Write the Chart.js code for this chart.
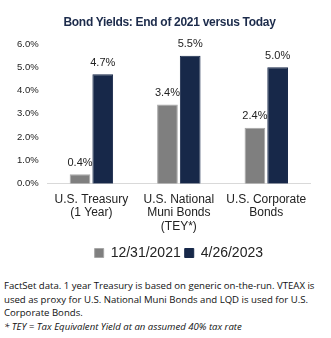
<!DOCTYPE html>
<html>
<head>
<meta charset="utf-8">
<script src="https://cdn.jsdelivr.net/npm/chart.js@4"></script>
<style>
  html, body { margin: 0; padding: 0; background: #fff; }
  #wrap { position: relative; width: 331px; height: 270px; }
  #title {
    position: absolute; left: 0; top: 15px; width: 339px; text-align: center;
    font: bold 12px "Liberation Sans", Arial, sans-serif; letter-spacing: -0.3px;
    color: #1c2b4b;
  }
  #notes {
    position: absolute; left: 4px; top: 279px; width: 325px;
    font-family: "Open Sans", "Noto Sans", sans-serif; font-size: 9.6px;
    line-height: 13.5px; color: #111;
  }
  #notes i { display: block; }
</style>
</head>
<body>
<div id="wrap"><canvas id="chart"></canvas></div>
<div id="title">Bond Yields: End of 2021 versus Today</div>
<div id="notes">
  FactSet data. 1 year Treasury is based on generic on-the-run. VTEAX is used as proxy for U.S. National Muni Bonds and LQD is used for U.S. Corporate Bonds.
  <i>* TEY = Tax Equivalent Yield at an assumed 40% tax rate</i>
</div>
<script>
const categories = [
  ["U.S. Treasury", "(1 Year)"],
  ["U.S. National", "Muni Bonds", "(TEY*)"],
  ["U.S. Corporate", "Bonds"],
];
const seriesNames = ["12/31/2021", "4/26/2023"];
const yields2021 = [0.4, 3.4, 2.4];
const yields2023 = [4.7, 5.5, 5.0];
const yTicks = [0, 1, 2, 3, 4, 5, 6];

const sans = "'Liberation Sans', Arial, sans-serif";

// draw each bar's value above it
const valueLabels = {
  id: "valueLabels",
  afterDatasetsDraw(chart) {
    const ctx = chart.ctx;
    ctx.save();
    ctx.font = "11px " + sans;
    ctx.fillStyle = "#222";
    ctx.textAlign = "center";
    ctx.textBaseline = "bottom";
    chart.data.datasets.forEach((ds, i) => {
      chart.getDatasetMeta(i).data.forEach((bar, j) => {
        ctx.fillText(ds.data[j].toFixed(1) + "%", bar.x, bar.y - 6);
      });
    });
    ctx.restore();
  },
};

new Chart(document.getElementById("chart"), {
  type: "bar",
  data: {
    labels: categories,
    datasets: [
      {
        label: seriesNames[0],
        data: yields2021,
        backgroundColor: "#7f7f7f",
        borderColor: "#a6a6a6",
        borderWidth: 1,
      },
      {
        label: seriesNames[1],
        data: yields2023,
        backgroundColor: "#172849",
        borderColor: "#172849",
        borderWidth: 1,
      },
    ],
  },
  options: {
    responsive: true,
    maintainAspectRatio: false,
    animation: false,
    devicePixelRatio: 1,
    categoryPercentage: 0.52,
    barPercentage: 0.91,
    layout: { autoPadding: false, padding: { top: 44, left: 8, right: 21, bottom: 0 } },
    plugins: {
      title: { display: false },
      legend: {
        position: "bottom",
        fullSize: false,
        labels: {
          boxWidth: 9,
          boxHeight: 9,
          padding: 4,
          color: "#222",
          font: { family: sans, size: 14 },
        },
      },
      tooltip: { enabled: false },
    },
    scales: {
      x: {
        grid: { display: false, drawTicks: false },
        border: { color: "#d9d9d9" },
        ticks: {
          color: "#222",
          padding: 9,
          maxRotation: 0,
          autoSkip: false,
          font: { family: sans, size: 12, lineHeight: 1.12 },
        },
      },
      y: {
        min: 0,
        max: 6,
        afterBuildTicks: (axis) => { axis.ticks = yTicks.map((v) => ({ value: v })); },
        grid: { display: false, drawTicks: false },
        border: { display: false },
        ticks: {
          color: "#222",
          padding: 9,
          font: { family: sans, size: 9.5 },
          callback: (v) => v.toFixed(1) + "%",
        },
      },
    },
  },
  plugins: [valueLabels],
});
</script>
</body>
</html>
